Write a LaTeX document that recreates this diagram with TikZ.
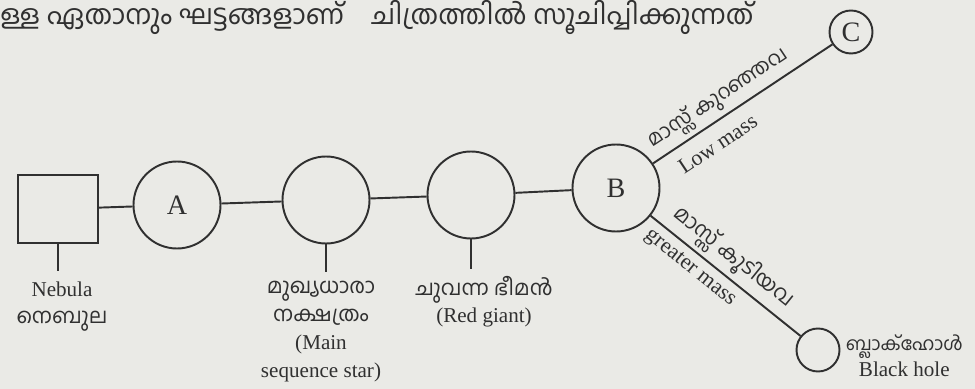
\documentclass[tikz,border=0pt]{standalone}
\usepackage{fontspec}
\setmainfont{Liberation Serif}
\newfontfamily\mlfont[Script=Malayalam]{Hind Kochi}
\definecolor{PaperGray}{RGB}{234,234,230}
\definecolor{InkGray}{RGB}{48,48,48}
\usetikzlibrary{
    positioning,
    calc,
}

\begin{document}
\begin{tikzpicture}[x=0.2mm, y=-0.2mm,
        stage/.style={circle, draw=InkGray, line width=1.1pt, minimum size=17.4mm, inner sep=0pt, font=\fontsize{16}{16}\selectfont, text=InkGray},
        endstage/.style={circle, draw=InkGray, line width=1.1pt, minimum size=8.6mm, inner sep=0pt, font=\fontsize{16}{16}\selectfont, text=InkGray},
        link/.style={draw=InkGray, line width=1.1pt},
        caption/.style={align=center, inner sep=0pt, text=InkGray, font=\fontsize{12}{15}\selectfont},
        massnote/.style={sloped, inner sep=2pt, text=InkGray, font=\fontsize{12.5}{12.5}\selectfont}]
        \fill[PaperGray] (0,0) rectangle (975,389);
        \useasboundingbox (0,0) rectangle (975,389);
        % cut-off line of the question
        \node[anchor=base west, inner sep=0pt, text=InkGray, font=\mlfont\fontsize{15.5}{15.5}\selectfont] (qline) at (0,25) {ള്ള ഏതാനും ഘട്ടങ്ങളാണ്\quad ചിത്രത്തിൽ സൂചിപ്പിക്കുന്നത്};
        % stages
        \node[draw=InkGray, line width=1.1pt, minimum width=16mm, minimum height=13.6mm] (neb) at (58,209) {};
        \node[stage] (A) at (177,205) {A};
        \node[stage] (ms) at (326,200) {};
        \node[stage] (rg) at (471,195) {};
        \node[stage] (B) at (616,188) {B};
        \node[endstage] (C) at (851,32) {C};
        \node[endstage] (bh) at (818,350) {};
        \draw[link] (neb) -- (A);
        \draw[link] (A) -- (ms);
        \draw[link] (ms) -- (rg);
        \draw[link] (rg) -- (B);
        % branches
        \draw[link] (B) -- (C)
            node[massnote, pos=0.42, above, font=\mlfont\fontsize{11.5}{11.5}\selectfont] (lowml) {മാസ്സ് കുറഞ്ഞവ}
            node[massnote, pos=0.3, below, inner sep=6.5pt] (lowen) {Low mass};
        \draw[link] (B) -- (bh)
            node[massnote, pos=0.47, above, font=\mlfont\fontsize{12}{12}\selectfont] (highml) {മാസ്സ് കൂടിയവ}
            node[massnote, pos=0.33, below, inner sep=4pt] (highen) {greater mass};
        % labels under the stages
        \draw[link] (neb.south) -- ++(0,27) coordinate (nebfoot);
        \node[caption, below=2.2mm of nebfoot, xshift=0.8mm] (nebtxt) {Nebula\\{\mlfont നെബുല}};
        \draw[link] (ms.south) -- ++(0,28) coordinate (msfoot);
        \node[caption, below=1.6mm of msfoot, xshift=-1mm, font=\fontsize{12}{16}\selectfont] (mstxt) {{\mlfont മുഖ്യധാരാ}\\{\mlfont നക്ഷത്രം}\\(Main\\sequence star)};
        \draw[link] (rg.south) -- ++(0,30) coordinate (rgfoot);
        \node[caption, below=1.4mm of rgfoot, xshift=2.6mm] (rgtxt) {{\mlfont ചുവന്ന ഭീമൻ}\\(Red giant)};
        \node[caption, right=1mm of bh, yshift=-1.2mm] (bhtxt) {{\mlfont\fontsize{10.5}{15}\selectfont ബ്ലാക്ഹോൾ}\\Black hole};
    \end{tikzpicture}
\end{document}
